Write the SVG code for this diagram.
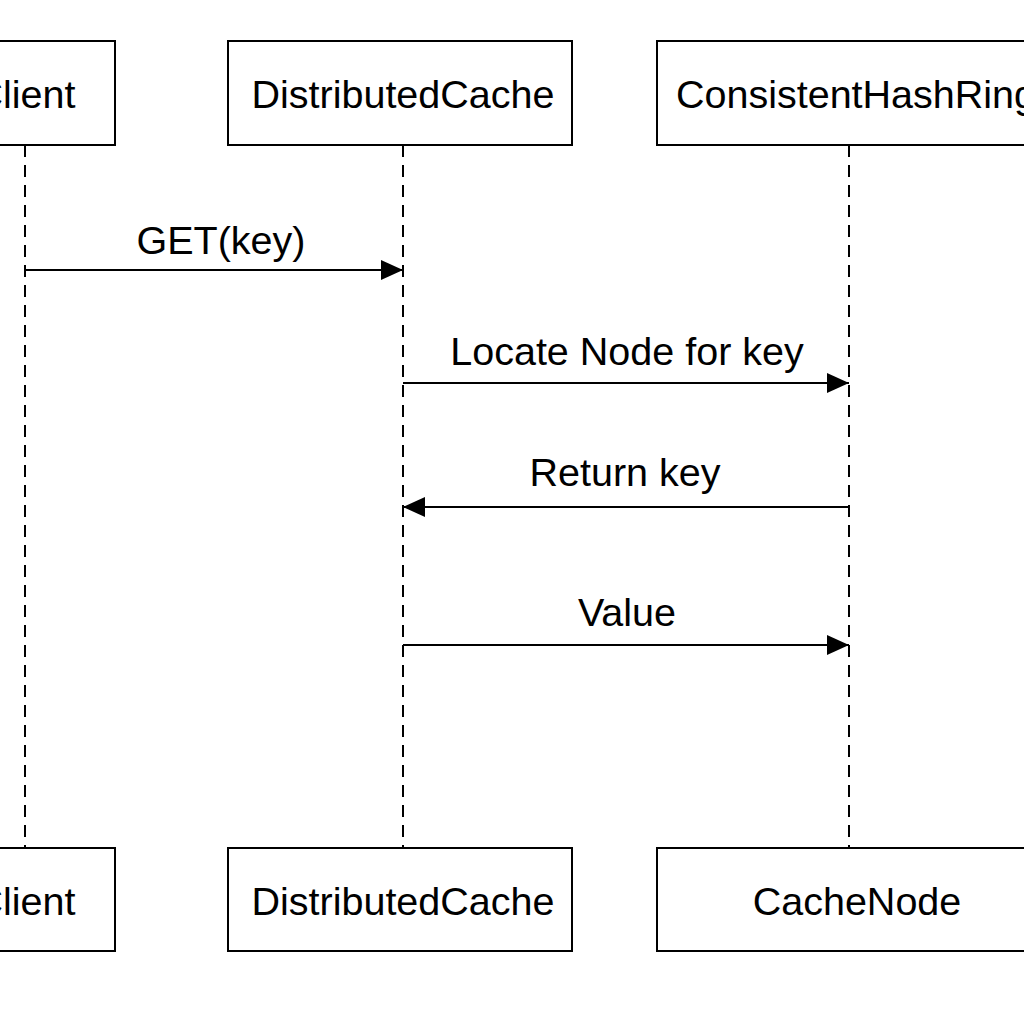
<svg xmlns="http://www.w3.org/2000/svg" width="1024" height="1024" viewBox="0 0 1024 1024">
<style>
.box{fill:#fff;stroke:#000;stroke-width:2}
.life{stroke:#000;stroke-width:2;stroke-dasharray:12 8;fill:none}
.msg{stroke:#000;stroke-width:2;fill:none}
text{font-family:"Liberation Sans",Arial,sans-serif;font-size:39.5px;fill:#000;text-anchor:middle}
</style>
<defs>
<marker id="ah" viewBox="0 0 22 20" refX="22" refY="10" markerWidth="22" markerHeight="20" markerUnits="userSpaceOnUse" orient="auto">
<path d="M0,0 L22,10 L0,20 Z" fill="#000"/>
</marker>
</defs>
<g id="lifelines">
<line class="life" x1="25" y1="145" x2="25" y2="848"/>
<line class="life" x1="403" y1="145" x2="403" y2="848"/>
<line class="life" x1="849" y1="145" x2="849" y2="848"/>
</g>
<g id="client-top"><rect class="box" x="-65" y="41" width="180" height="104"/><text x="25" y="108">Client</text></g>
<g id="cache-top"><rect class="box" x="228" y="41" width="344" height="104"/><text x="403" y="108">DistributedCache</text></g>
<g id="ring-top"><rect class="box" x="657" y="41" width="400" height="104"/><text x="856" y="108">ConsistentHashRing</text></g>
<g id="client-bottom"><rect class="box" x="-65" y="848" width="180" height="103"/><text x="25" y="915">Client</text></g>
<g id="cache-bottom"><rect class="box" x="228" y="848" width="344" height="103"/><text x="403" y="915">DistributedCache</text></g>
<g id="node-bottom"><rect class="box" x="657" y="848" width="400" height="103"/><text x="857" y="915">CacheNode</text></g>
<g id="connectors">
<line class="msg" x1="25" y1="270" x2="403" y2="270" marker-end="url(#ah)"/>
<text x="221" y="254">GET(key)</text>
<line class="msg" x1="403" y1="383" x2="849" y2="383" marker-end="url(#ah)"/>
<text x="627" y="365">Locate Node for key</text>
<line class="msg" x1="849" y1="507" x2="403" y2="507" marker-end="url(#ah)"/>
<text x="625" y="486">Return key</text>
<line class="msg" x1="403" y1="645" x2="849" y2="645" marker-end="url(#ah)"/>
<text x="627" y="626">Value</text>
</g>
</svg>
